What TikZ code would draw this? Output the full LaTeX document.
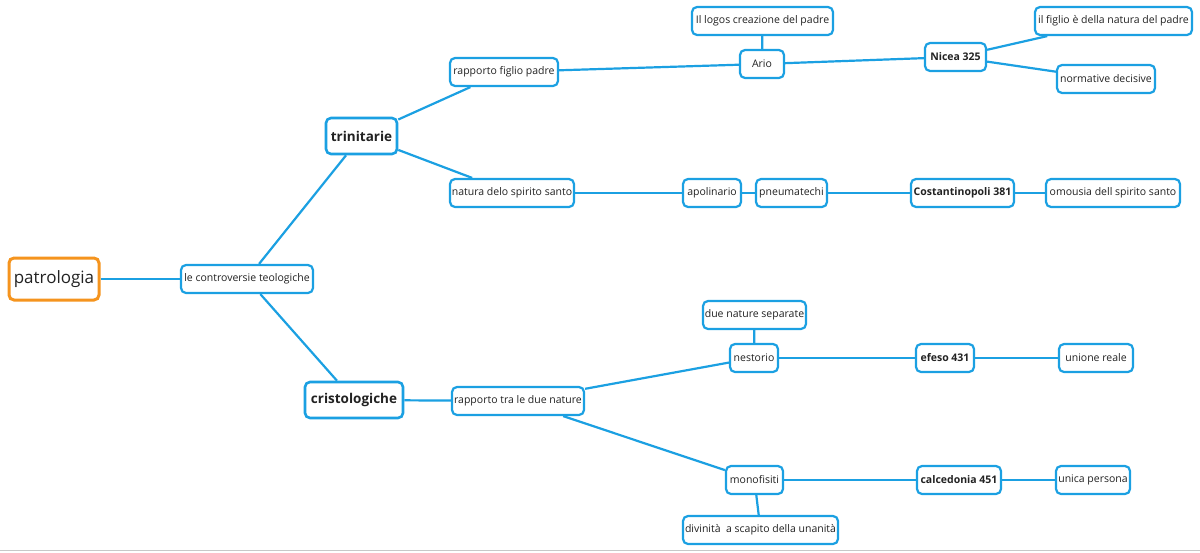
\documentclass[tikz,border=0pt]{standalone}
\usepackage{fontspec}
\setmainfont{Open Sans}
\definecolor{mmblue}{RGB}{27,160,226}
\definecolor{mmorange}{RGB}{245,148,30}
\definecolor{mmtext}{RGB}{34,34,34}
\definecolor{mmgray}{RGB}{200,200,200}
\tikzset{
  box/.style={draw=mmblue, line width=2.2pt, rounded corners=5pt, fill=white,
    inner sep=0pt, text=mmtext, font=\fontsize{10.5}{12}\selectfont, minimum height=28pt},
  bbox/.style={box, font=\fontsize{10.5}{12}\selectfont\bfseries},
  bigbox/.style={box, line width=2.6pt, font=\fontsize{13.5}{16}\selectfont\bfseries, minimum height=36pt},
  rootbox/.style={box, draw=mmorange, line width=3pt, font=\fontsize{17}{20}\selectfont, minimum height=42pt},
  link/.style={draw=mmblue, line width=2.2pt}
}
\begin{document}
\begin{tikzpicture}[x=1pt,y=-1pt]
\useasboundingbox (0,0) rectangle (1200,552);
\fill[white] (0,0) rectangle (1200,552);
\draw[mmgray, line width=1.5pt] (0,550.5) -- (1200,550.5);

\node[rootbox, minimum width=90pt] (patr) at (54,279) {patrologia};
\node[box, minimum width=132pt] (contr) at (247,279) {le controversie teologiche};
\node[bigbox, minimum width=71pt] (trin) at (361.5,136) {trinitarie};
\node[bigbox, minimum width=98pt] (crist) at (354,400) {cristologiche};
\node[box, minimum width=108pt] (rapfig) at (504,72) {rapporto figlio padre};
\node[box, minimum width=124pt] (natura) at (512,193) {natura delo spirito santo};
\node[box, minimum width=141pt] (logos) at (762.5,21) {Il logos creazione del padre};
\node[box, minimum width=44pt] (ario) at (762,64) {Ario};
\node[bbox, minimum width=61pt] (nicea) at (955.5,57) {Nicea 325};
\node[box, minimum width=157pt] (figlio) at (1113.5,21) {il figlio è della natura del padre};
\node[box, minimum width=98pt] (norm) at (1106,79) {normative decisive};
\node[box, minimum width=58pt] (apol) at (712,193) {apolinario};
\node[box, minimum width=71pt] (pneu) at (791.5,193) {pneumatechi};
\node[bbox, minimum width=103pt] (cost) at (962.5,193) {Costantinopoli 381};
\node[box, minimum width=134pt] (omou) at (1113,193) {omousia dell spirito santo};
\node[box, minimum width=132pt] (raptra) at (518,401) {rapporto tra le due nature};
\node[box, minimum width=103pt] (duenat) at (754.5,315) {due nature separate};
\node[box, minimum width=48pt] (nest) at (754,358) {nestorio};
\node[bbox, minimum width=58pt] (efeso) at (945,358) {efeso 431};
\node[box, minimum width=74pt] (unione) at (1096,358) {unione reale};
\node[box, minimum width=57pt] (mono) at (754.5,480) {monofisiti};
\node[bbox, minimum width=84pt] (calc) at (959,480) {calcedonia 451};
\node[box, minimum width=74pt] (unica) at (1093,480) {unica persona};
\node[box, minimum width=155pt] (divin) at (760.5,530) {divinità\ \ a scapito della unanità};

\begin{scope}[on background layer/.try]
\end{scope}
\path[link] (patr) -- (contr);
\path[link] (contr) -- (trin);
\path[link] (contr) -- (crist);
\path[link] (trin) -- (rapfig);
\path[link] (trin) -- (natura);
\path[link] (rapfig) -- (ario);
\path[link] (ario) -- (logos);
\path[link] (ario) -- (nicea);
\path[link] (nicea) -- (figlio);
\path[link] (nicea) -- (norm);
\path[link] (natura) -- (apol);
\path[link] (apol) -- (pneu);
\path[link] (pneu) -- (cost);
\path[link] (cost) -- (omou);
\path[link] (crist) -- (raptra);
\path[link] (raptra) -- (nest);
\path[link] (raptra) -- (mono);
\path[link] (nest) -- (duenat);
\path[link] (nest) -- (efeso);
\path[link] (efeso) -- (unione);
\path[link] (mono) -- (calc);
\path[link] (calc) -- (unica);
\path[link] (mono) -- (divin);
\end{tikzpicture}
\end{document}
